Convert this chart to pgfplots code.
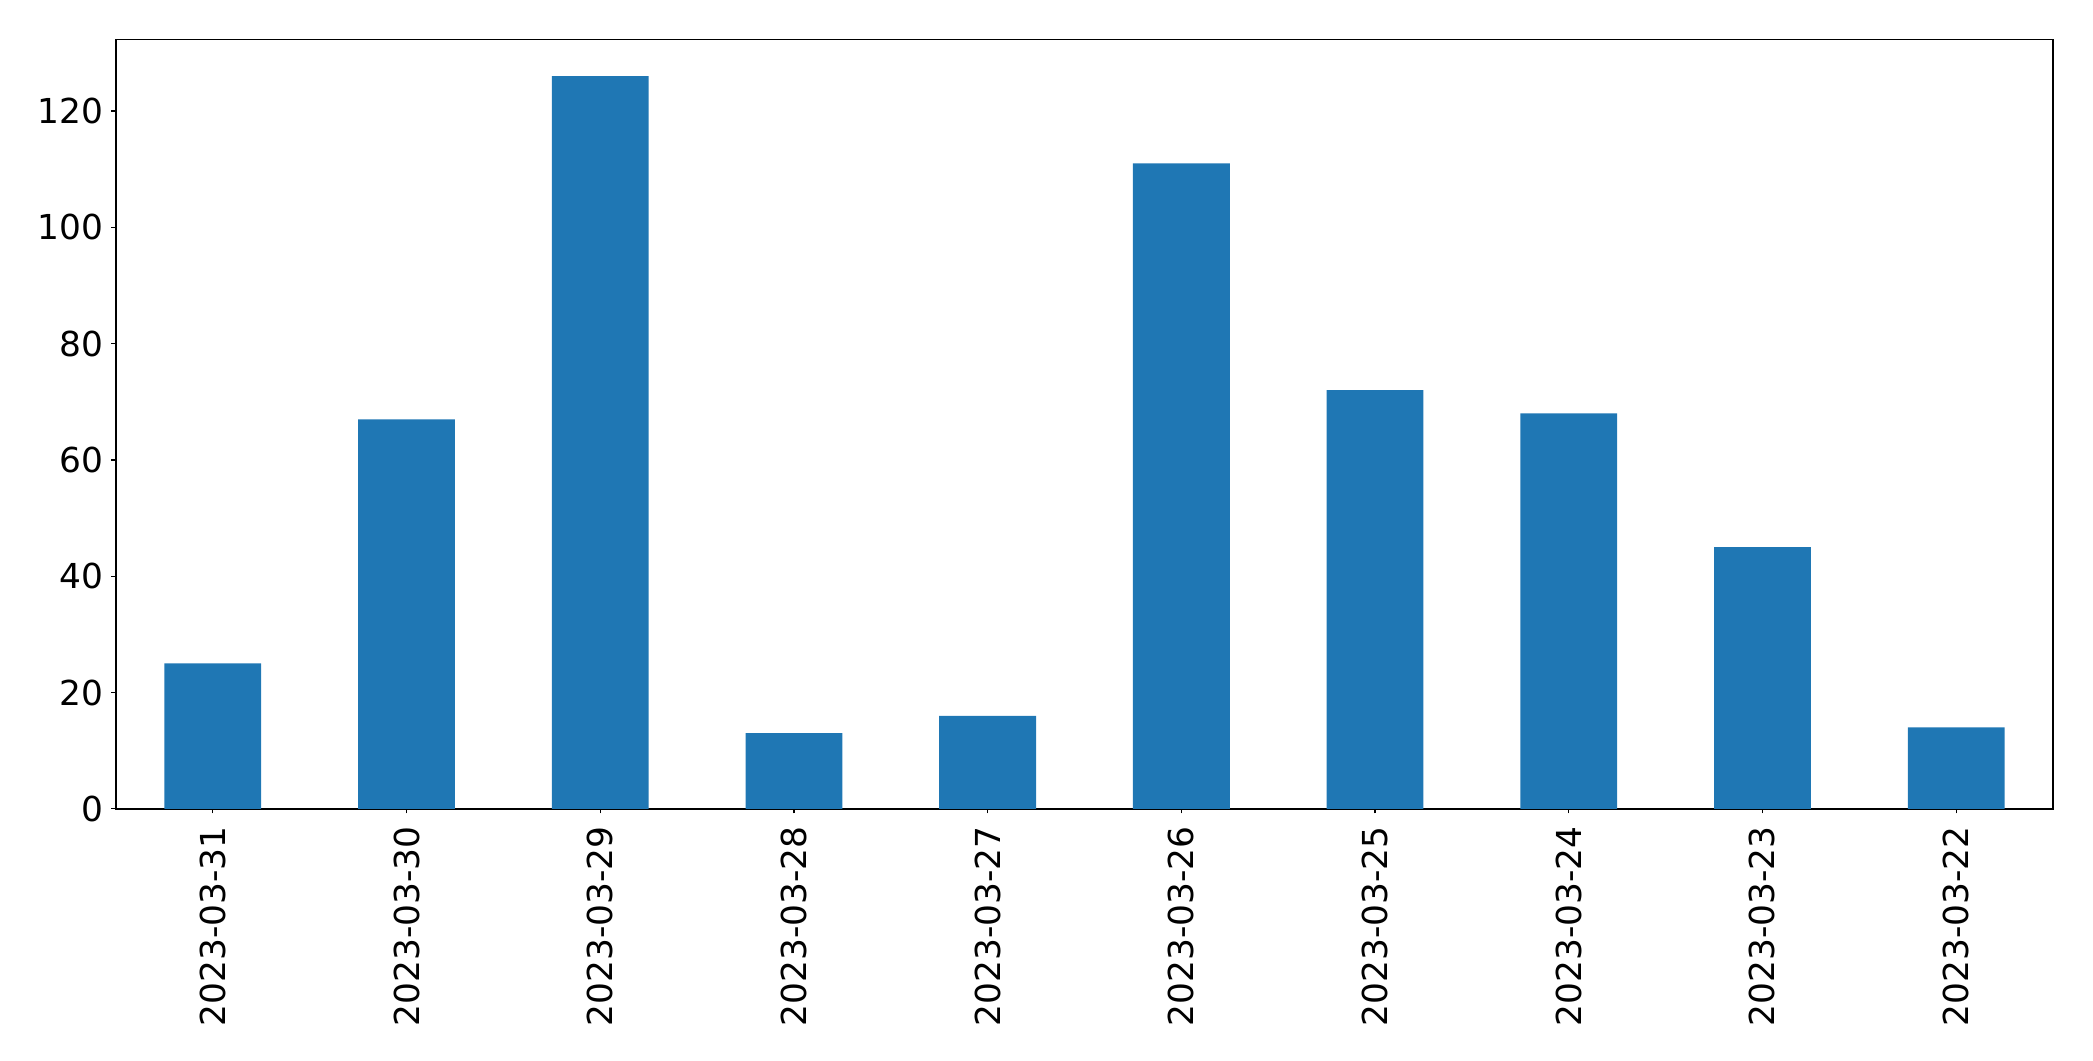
\documentclass[border=0pt]{standalone}
\usepackage{fontspec}
\setmainfont{DejaVu Sans}
\usepackage{pgfplots}
\pgfplotsset{compat=1.18}
\definecolor{mplblue}{HTML}{1F77B4}
\begin{document}
\begin{tikzpicture}
\begin{axis}[
  name=ax,
  scale only axis,
  width=969pt, height=384.8pt,
  xmin=-0.5, xmax=9.5,
  ymin=0, ymax=132.3,
  xtick={0,...,9},
  xticklabels={2023-03-31,2023-03-30,2023-03-29,2023-03-28,2023-03-27,2023-03-26,2023-03-25,2023-03-24,2023-03-23,2023-03-22},
  ytick={0,20,40,60,80,100,120},
  x tick label style={rotate=90, anchor=east, font=\fontsize{17.2}{20}\selectfont},
  y tick label style={font=\fontsize{17.2}{20}\selectfont},
  /pgf/number format/assume math mode=true,
  tick align=outside,
  tickwidth=2.3pt,
  xtick pos=bottom, ytick pos=left,
  major tick style={line width=0.6pt, black},
  axis line style={line width=0.7pt},
  xticklabel shift=3pt,
  yticklabel shift=0.5pt,
  ybar, bar width=0.5,
  bar shift=0pt,
]
\addplot[fill=mplblue, draw=none] coordinates {
(0,25) (1,67) (2,126) (3,13) (4,16) (5,111) (6,72) (7,68) (8,45) (9,14)
};
\end{axis}
\pgfresetboundingbox
\path ([shift={(-58pt,-126pt)}]ax.south west) rectangle ([shift={(20pt,19.8pt)}]ax.north east);
\end{tikzpicture}
\end{document}
